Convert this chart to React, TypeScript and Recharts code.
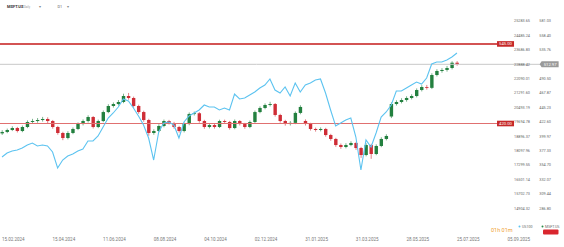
import React from "react";
import { ComposedChart, Bar, Line, XAxis, YAxis, ReferenceLine } from "recharts";

// one candle = 4 trading days, starting 15.02.2024
const dateLabels = [
  "15.02.2024", "15.04.2024", "11.06.2024", "08.08.2024", "04.10.2024", "02.12.2024",
  "31.01.2025", "31.03.2025", "28.05.2025", "25.07.2025", "05.09.2025",
];
const dateTicks = [0, 40, 80, 120, 160, 200, 240, 280, 320, 360, 400];

const msftTicks = [286.8, 309.44, 332.07, 354.7, 377.33, 399.97, 422.6, 445.23, 467.87, 490.5, 535.76, 558.4, 581.03];
const us100Ticks = [
  14904.32, 15702.73, 16501.14, 17299.55, 18097.96, 18896.37, 19694.78,
  20493.19, 21291.6, 22090.01, 22888.42, 23686.83, 24485.24, 25283.65,
];

// [open, close, high, low]
const msftCandles: [number, number, number, number][] = [
  [404.5, 406.7, 409.5, 402.0], [406.7, 409.8, 412.0, 404.8], [409.8, 412.9, 415.6, 408.1], [412.9, 408.2, 414.7, 405.9],
  [408.2, 414.5, 416.8, 406.3], [414.5, 422.4, 424.9, 412.6], [422.4, 423.9, 427.3, 419.8], [423.9, 425.5, 428.6, 421.2],
  [425.5, 427.1, 430.4, 423.0], [427.1, 423.9, 429.8, 420.7], [423.9, 414.5, 425.6, 411.8], [414.5, 405.1, 416.3, 402.4],
  [405.1, 397.2, 407.0, 393.8], [397.2, 405.1, 407.9, 395.0], [405.1, 411.4, 413.8, 403.2], [411.4, 419.2, 421.7, 409.6],
  [419.2, 423.9, 426.4, 417.0], [423.9, 430.2, 432.9, 421.5], [430.2, 414.5, 431.8, 412.2], [414.5, 423.9, 426.1, 412.7],
  [423.9, 438.0, 440.5, 422.1], [438.0, 447.5, 450.3, 436.2], [447.5, 450.6, 453.1, 445.0], [450.6, 453.8, 456.9, 448.3],
  [453.8, 463.2, 466.8, 451.9], [463.2, 460.1, 468.0, 457.4], [460.1, 447.5, 462.3, 444.8], [447.5, 438.0, 449.6, 435.2],
  [438.0, 425.5, 440.1, 422.7], [425.5, 405.1, 427.4, 400.8], [405.1, 408.2, 411.0, 402.3], [408.2, 416.1, 418.9, 406.4],
  [416.1, 423.9, 426.2, 414.0], [423.9, 420.8, 425.7, 418.5], [420.8, 414.5, 422.6, 411.9], [414.5, 408.2, 416.3, 405.6],
  [408.2, 419.2, 421.5, 406.0], [419.2, 435.0, 437.4, 417.3], [435.0, 436.1, 438.8, 432.6], [436.1, 423.9, 437.9, 421.3],
  [423.9, 414.5, 425.8, 411.7], [414.5, 417.6, 420.2, 412.3], [417.6, 414.5, 419.4, 412.0], [414.5, 423.9, 426.0, 412.8],
  [423.9, 422.4, 426.1, 419.8], [422.4, 412.9, 424.2, 410.4], [412.9, 423.9, 426.3, 411.0], [423.9, 419.2, 425.5, 416.9],
  [419.2, 414.5, 421.0, 411.8], [414.5, 422.4, 424.7, 412.6], [422.4, 438.0, 440.3, 420.5], [438.0, 444.4, 447.0, 436.1],
  [444.4, 449.1, 451.6, 442.3], [449.1, 450.6, 454.1, 446.8], [450.6, 433.4, 452.2, 430.9], [433.4, 423.9, 435.3, 421.4],
  [423.9, 419.2, 425.8, 416.6], [419.2, 421.0, 423.9, 416.8], [421.0, 436.6, 438.9, 419.0], [436.6, 446.0, 448.7, 434.5],
  [424.0, 419.2, 426.5, 416.8], [419.2, 411.4, 421.1, 408.9], [411.4, 409.8, 413.6, 407.2], [409.8, 411.4, 413.9, 407.6],
  [411.4, 401.9, 413.2, 399.3], [401.9, 395.7, 403.8, 392.9], [395.7, 386.2, 397.5, 383.4], [386.2, 383.1, 388.6, 380.2],
  [383.1, 386.2, 389.0, 381.0], [386.2, 389.4, 392.1, 384.3], [389.4, 381.5, 391.2, 378.6], [381.5, 370.5, 383.3, 366.0],
  [370.5, 386.2, 388.9, 368.4], [386.2, 372.1, 388.0, 364.5], [372.1, 384.7, 387.3, 370.2], [384.7, 395.7, 398.4, 382.8],
  [395.7, 400.4, 403.1, 393.5], [431.0, 450.6, 453.4, 428.5], [450.6, 453.8, 456.5, 448.2], [453.8, 456.9, 459.7, 451.6],
  [456.9, 460.1, 462.8, 454.3], [460.1, 463.2, 466.0, 457.9], [463.2, 472.6, 475.1, 461.0], [472.6, 477.3, 480.2, 470.4],
  [477.3, 476.0, 480.6, 473.2], [476.0, 496.2, 498.9, 474.1], [496.2, 502.5, 505.3, 493.9], [502.5, 504.1, 507.0, 499.8],
  [504.1, 507.2, 510.4, 501.5], [507.2, 515.5, 517.8, 505.0], [515.5, 513.0, 518.0, 510.8],
];

const us100Line = [
  17747, 17969, 18080, 18135, 18246, 18412, 18523, 18357, 18412, 18357,
  18024, 17138, 17581, 17803, 17914, 18080, 18191, 18634, 18634, 18911,
  19410, 19909, 20186, 20518, 20961, 20851, 20463, 20019, 19521, 18800,
  17581, 19133, 19631, 19687, 19521, 18800, 19687, 20019, 20186, 20352,
  20629, 20518, 20518, 20352, 20463, 20352, 21238, 20961, 21017, 21183,
  21349, 21571, 21737, 22070, 21460, 21294, 21626, 21128, 21848, 21349,
  21737, 21848, 22014, 22070, 21294, 20352, 19465, 19631, 19798, 19909,
  18856, 17027, 18689, 18302, 19077, 19964, 20241, 20629, 21405, 21405,
  21571, 21737, 21903, 21793, 22125, 22901, 23012, 23012, 23123, 23289, 23511,
];

const currentPrice = 512.97;
const alertLevels = [545.0, 420.0];

const UP = "#23803f";
const DOWN = "#cf2d36";
const BLUE = "#5cc3f0";
const FONT = "Roboto, Arial, sans-serif";

const rows = msftCandles.map((c, i) => ({
  d: i * 4,
  o: c[0],
  c: c[1],
  h: c[2],
  l: c[3],
  range: [c[3], c[2]],
  us: us100Line[i],
}));

function Candle(props: any) {
  const { x, y, width, height, payload } = props;
  const { o, c, h, l } = payload;
  const color = c >= o ? UP : DOWN;
  const top = Math.min(y, y + height);
  const full = Math.abs(height);
  const ratio = full / (h - l || 1);
  const bodyTop = top + (h - Math.max(o, c)) * ratio;
  const bodyH = Math.max(Math.abs(o - c) * ratio, 0.8);
  const cx = x + width / 2;
  return (
    <g>
      <line x1={cx} x2={cx} y1={top} y2={top + full} stroke={color} strokeWidth={0.6} />
      <rect x={x} y={bodyTop} width={width} height={bodyH} fill={color} />
    </g>
  );
}

const boxLabel = (text: string, fill: string, arrow: boolean) => (props: any) => {
  const vb = props.viewBox;
  const x0 = vb.x + vb.width;
  const cy = vb.y + vb.height / 2;
  return (
    <g>
      {arrow ? (
        <path d={`M${x0 - 2},${cy} L${x0},${cy - 3} L${x0 + 17},${cy - 3} L${x0 + 17},${cy + 3} L${x0},${cy + 3} Z`} fill={fill} />
      ) : (
        <rect x={x0} y={cy - 2.8} width={17} height={5.6} fill={fill} />
      )}
      <text x={x0 + 8.5} y={cy} dy="0.35em" textAnchor="middle" fontSize={4.2} fill="#fff" fontFamily={FONT}>
        {text}
      </text>
    </g>
  );
};

export default function App() {
  const axisTick = { fontSize: 4.5, fill: "#777", fontFamily: FONT };
  const priceTick = { fontSize: 3.8, fill: "#666", fontFamily: FONT };
  return (
    <div style={{ position: "relative", width: 564, height: 247, background: "#fff" }}>
      <style>{`body{margin:0}`}</style>
      <ComposedChart width={564} height={247} data={rows} margin={{ top: 0, right: 0, bottom: 0, left: 0 }}>
        <XAxis
          dataKey="d"
          type="number"
          domain={[-1.6, 444.7]}
          allowDataOverflow
          ticks={dateTicks}
          interval={0}
          tickFormatter={(v: number) => dateLabels[dateTicks.indexOf(v)]}
          axisLine={false}
          tickLine={false}
          tickSize={0}
          tickMargin={10}
          height={19}
          tick={{ ...axisTick, textAnchor: "start" }}
        />
        <YAxis
          yAxisId="msft"
          orientation="right"
          mirror
          width={1}
          domain={[255.85, 614.02]}
          allowDataOverflow
          ticks={msftTicks}
          interval={0}
          tickFormatter={(v: number) => v.toFixed(2)}
          axisLine={false}
          tickLine={false}
          tickSize={0}
          tickMargin={13}
          tick={priceTick}
        />
        <YAxis
          yAxisId="us"
          orientation="right"
          mirror
          width={1}
          domain={[13812.95, 26447.3]}
          allowDataOverflow
          ticks={us100Ticks}
          interval={0}
          tickFormatter={(v: number) => v.toFixed(2)}
          axisLine={false}
          tickLine={false}
          tickSize={0}
          tickMargin={33}
          tick={priceTick}
        />
        <ReferenceLine
          yAxisId="msft"
          segment={[{ x: -1.6, y: currentPrice }, { x: 427, y: currentPrice }]}
          stroke="#c8c8c8"
          strokeWidth={1}
          label={boxLabel(currentPrice.toFixed(2), "#9a9a9a", true)}
        />
        <ReferenceLine
          yAxisId="msft"
          segment={[{ x: -1.6, y: alertLevels[0] }, { x: 391.7, y: alertLevels[0] }]}
          stroke="#c41a1a"
          strokeWidth={1.5}
          label={boxLabel(alertLevels[0].toFixed(2), "#c62828", false)}
        />
        <ReferenceLine
          yAxisId="msft"
          segment={[{ x: -1.6, y: alertLevels[1] }, { x: 391.7, y: alertLevels[1] }]}
          stroke="#e07070"
          strokeWidth={1}
          label={boxLabel(alertLevels[1].toFixed(2), "#c62828", false)}
        />
        <Bar yAxisId="msft" dataKey="range" barSize={3.4} shape={Candle} isAnimationActive={false} />
        <Line
          yAxisId="us"
          dataKey="us"
          type="linear"
          stroke={BLUE}
          strokeWidth={1.1}
          dot={false}
          activeDot={false}
          isAnimationActive={false}
        />
      </ComposedChart>
      <svg width={564} height={247} style={{ position: "absolute", left: 0, top: 0, pointerEvents: "none" }}>
        <g fontFamily={FONT}>
          <text x={7} y={7.5} fontSize={4} fontWeight={700} fill="#333">MSFT.US</text>
          <text x={24} y={7.5} fontSize={2.8} fill="#999">Daily</text>
          <text x={39} y={7.5} fontSize={3.5} fill="#888">▾</text>
          <text x={57.5} y={7.5} fontSize={3.8} fill="#666">D1</text>
          <text x={67} y={7.5} fontSize={3.5} fill="#888">▾</text>
          <text x={491} y={232} fontSize={5.5} fill="#f0a030">01h 01m</text>
          <circle cx={519.5} cy={226.5} r={1} fill={BLUE} />
          <text x={522} y={228} fontSize={3.6} fill="#666">US100</text>
          <circle cx={542.5} cy={226.5} r={1} fill="#2a8a4a" />
          <text x={545} y={228} fontSize={3.6} fill="#666">MSFT.US</text>
          <rect x={543} y={229.5} width={15.5} height={5} rx={1} fill="#d9262e" />
        </g>
      </svg>
    </div>
  );
}
